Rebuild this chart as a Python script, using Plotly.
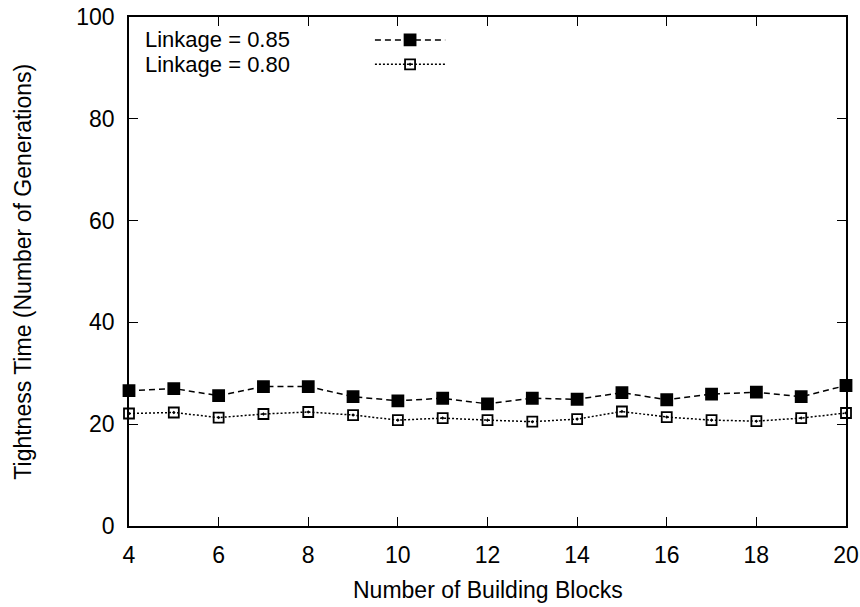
import plotly.graph_objects as go

# Tightness time vs. number of building blocks, for two linkage settings
building_blocks = [4, 5, 6, 7, 8, 9, 10, 11, 12, 13, 14, 15, 16, 17, 18, 19, 20]
linkage_085 = [26.6, 27.0, 25.6, 27.4, 27.4, 25.4, 24.6, 25.1, 24.0,
               25.1, 24.9, 26.2, 24.8, 25.9, 26.3, 25.4, 27.6]
linkage_080 = [22.1, 22.3, 21.3, 22.0, 22.4, 21.8, 20.8, 21.2, 20.8,
               20.5, 21.0, 22.5, 21.4, 20.8, 20.6, 21.2, 22.2]
series_names = ["Linkage = 0.85", "Linkage = 0.80"]
x_ticks = [4, 6, 8, 10, 12, 14, 16, 18, 20]
y_ticks = [0, 20, 40, 60, 80, 100]
x_title = "Number of Building Blocks"
y_title = "Tightness Time (Number of Generations)"

FONT = "Liberation Sans, Arial, Helvetica, sans-serif"
FS = 23
styles = [
    dict(dash="6px,4px", symbol="square", size=11, fill="black"),
    dict(dash="2px,2px", symbol="square-open-dot", size=10, fill="black"),
]

fig = go.Figure()
for name, ys, st in zip(series_names, [linkage_085, linkage_080], styles):
    fig.add_trace(go.Scatter(
        x=building_blocks, y=ys, mode="lines+markers", name=name,
        line=dict(color="black", width=1.5, dash=st["dash"]),
        marker=dict(symbol=st["symbol"], size=st["size"], color=st["fill"],
                    line=dict(color="black", width=1.8)),
        showlegend=False, cliponaxis=False,
    ))

# Key in the upper-left corner: label on the left, line sample on the right
key_rows = [0.955, 0.907]
for name, yk, st in zip(series_names, key_rows, styles):
    fig.add_trace(go.Scatter(
        x=[0.343, 0.392, 0.441], y=[yk, yk, yk], xaxis="x2", yaxis="y2",
        mode="lines", line=dict(color="black", width=1.5, dash=st["dash"]),
        showlegend=False, hoverinfo="skip",
    ))
    fig.add_trace(go.Scatter(
        x=[0.392], y=[yk], xaxis="x2", yaxis="y2", mode="markers",
        marker=dict(symbol=st["symbol"], size=st["size"], color=st["fill"],
                    line=dict(color="black", width=1.8)),
        showlegend=False, hoverinfo="skip",
    ))
    fig.add_annotation(text=name, xref="paper", yref="paper", x=0.021, y=yk,
                       xanchor="left", yanchor="middle", showarrow=False,
                       borderpad=0, font=dict(family=FONT, size=22, color="black"))

# Axis titles
fig.add_annotation(text=x_title, xref="paper", yref="paper", x=0.5, y=-0.126,
                   xanchor="center", yanchor="middle", showarrow=False,
                   font=dict(family=FONT, size=FS, color="black"))
fig.add_annotation(text=y_title, xref="paper", yref="paper", x=-0.149, y=0.5,
                   textangle=-90, xanchor="center", yanchor="middle", showarrow=False,
                   font=dict(family=FONT, size=FS, color="black"))

axis_common = dict(
    showline=True, linecolor="black", linewidth=1.5, mirror="allticks",
    ticks="inside", ticklen=9, tickwidth=1.2, tickcolor="black",
    showgrid=False, zeroline=False, automargin=False,
    tickfont=dict(family=FONT, size=FS, color="black"),
)

fig.update_layout(
    width=860, height=607,
    margin=dict(l=129, r=14, t=17, b=81, autoexpand=False),
    paper_bgcolor="white", plot_bgcolor="white",
    xaxis=dict(range=[4, 20], tickvals=x_ticks, ticklabelstandoff=8, **axis_common),
    yaxis=dict(range=[0, 100], tickvals=y_ticks, ticklabelstandoff=8, **axis_common),
    xaxis2=dict(overlaying="x", range=[0, 1], visible=False, fixedrange=True),
    yaxis2=dict(overlaying="y", range=[0, 1], visible=False, fixedrange=True),
)

fig.write_html("out.html")
